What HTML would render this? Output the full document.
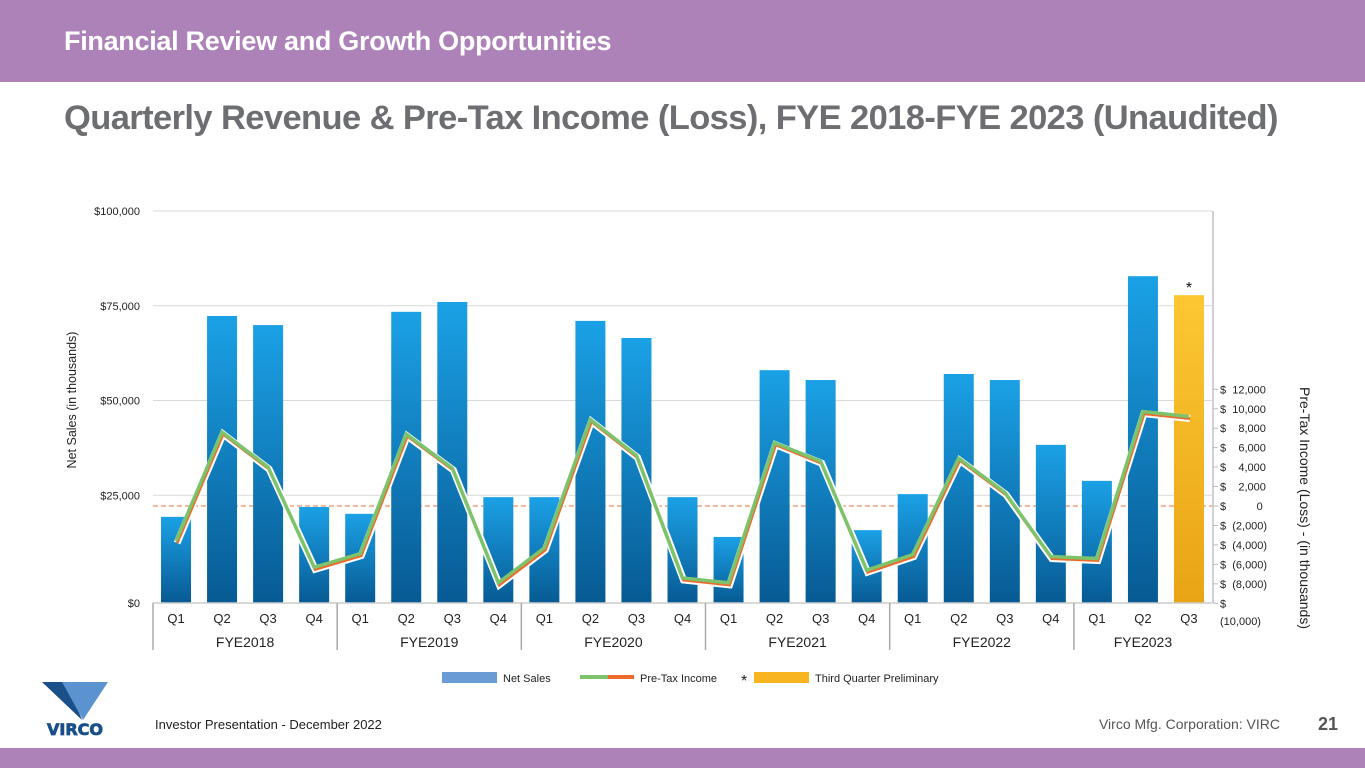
<!DOCTYPE html>
<html><head><meta charset="utf-8"><style>
body{margin:0;width:1365px;height:768px;overflow:hidden;background:#fff;font-family:"Liberation Sans",sans-serif;position:relative}
.hdr{position:absolute;left:0;top:0;width:1365px;height:82px;background:#ad82b9}
.hdr span{position:absolute;left:64px;top:26px;color:#fff;font-weight:bold;font-size:27px;letter-spacing:-0.3px}
.title{position:absolute;left:64px;top:99px;color:#6d6e71;font-weight:bold;font-size:34.5px;letter-spacing:-0.6px}
.foot{position:absolute;left:0;top:748px;width:1365px;height:20px;background:#ad82b9}
</style></head><body>
<div class="hdr"><span>Financial Review and Growth Opportunities</span></div>
<div class="title">Quarterly Revenue &amp; Pre-Tax Income (Loss), FYE 2018-FYE 2023 (Unaudited)</div>
<svg id="chart" width="1365" height="768" style="position:absolute;left:0;top:0" font-family="Liberation Sans, sans-serif">
<defs>
<linearGradient id="gb" x1="0" y1="0" x2="0" y2="1"><stop offset="0" stop-color="#1ba1e6"/><stop offset="1" stop-color="#075a93"/></linearGradient>
<linearGradient id="go" x1="0" y1="0" x2="0" y2="1"><stop offset="0" stop-color="#fcc733"/><stop offset="1" stop-color="#e9a415"/></linearGradient>
</defs>
<g id="grid"></g><g id="bars"></g><g id="lines"></g><g id="axes"></g>
<text x="0" y="0" transform="translate(76,400) rotate(-90)" text-anchor="middle" font-size="12.5" fill="#222">Net Sales (in thousands)</text>
<text x="0" y="0" transform="translate(1300,508) rotate(90)" text-anchor="middle" font-size="14" fill="#222">Pre-Tax Income (Loss) - (in thousands)</text>
<g font-size="11" fill="#222">
<rect x="442" y="672" width="55" height="11" fill="#6b9bd4"/>
<text x="503" y="682">Net Sales</text>
<line x1="580" y1="677" x2="608" y2="677" stroke="#7cc36b" stroke-width="4"/><line x1="608" y1="677" x2="634" y2="677" stroke="#ee6a2b" stroke-width="4"/>
<text x="640" y="682">Pre-Tax Income</text>
<text x="741" y="686" font-size="16">*</text>
<rect x="754" y="672" width="55" height="11" fill="#f9b51f"/>
<text x="815" y="682">Third Quarter Preliminary</text>
</g>
<g>
<polygon points="42,682 67,682 82,720" fill="#1a4f8a"/><polygon points="62,682 108,682 83,720" fill="#5b93d1"/>
<text x="75" y="735" text-anchor="middle" font-size="16" font-weight="bold" fill="#1a4f8a" font-family="DejaVu Sans, sans-serif" stroke="#1a4f8a" stroke-width="0.8">VIRCO</text>
</g>
<text x="155" y="729" font-size="13" fill="#222">Investor Presentation - December 2022</text>
<text x="1280" y="729" text-anchor="end" font-size="14" fill="#555">Virco Mfg. Corporation: VIRC</text>
<text x="1338" y="730" text-anchor="end" font-size="18" font-weight="bold" fill="#555">21</text>
</svg>
<div class="foot"></div>
<script>
const quarters=["Q1","Q2","Q3","Q4","Q1","Q2","Q3","Q4","Q1","Q2","Q3","Q4","Q1","Q2","Q3","Q4","Q1","Q2","Q3","Q4","Q1","Q2","Q3"];
const years=["FYE2018","FYE2019","FYE2020","FYE2021","FYE2022","FYE2023"];
const netSales=[19300,72300,69900,21900,20100,73400,76000,24500,24500,71000,66500,24500,14000,58000,55400,15800,25300,57000,55400,38300,28800,82800,77800];
const preTax=[-3600,7600,4000,-6300,-4900,7400,3900,-7900,-4300,8900,5200,-7400,-7900,6500,4600,-6600,-5000,4900,1400,-5200,-5400,9700,9200];
const leftTicks=[0,25000,50000,75000,100000];
const leftLabels=["$0","$25,000","$50,000","$75,000","$100,000"];
const rightTicks=[12000,10000,8000,6000,4000,2000,0,-2000,-4000,-6000,-8000,-10000];
const rightLabels=["$  12,000","$  10,000","$    8,000","$    6,000","$    4,000","$    2,000","$          0","$  (2,000)","$  (4,000)","$  (6,000)","$  (8,000)","$"];
const NS="http://www.w3.org/2000/svg";
const X0=153,X1=1212,YB=603,YT=211,Y0=590;
const step=(X1-X0)/quarters.length;
const xc=i=>X0+step*(i+0.5);
const yL=v=>Y0-(v/100000)*(Y0-YT);
const yR=v=>506-(v/2000)*19.45;
function mk(t,a,p){const e=document.createElementNS(NS,t);for(const k in a)e.setAttribute(k,a[k]);p.appendChild(e);return e;}
const grid=document.getElementById('grid'),bars=document.getElementById('bars'),lines=document.getElementById('lines'),axes=document.getElementById('axes');
leftTicks.forEach((v,i)=>{
 const y=v===0?YB:yL(v);
 if(v!==0){
 const g=mk('line',{x1:X0,x2:X1,y1:y,y2:y,stroke:"#d9d9d9","stroke-width":1},grid);
 
 
 }
 const t=mk('text',{x:140,y:y+4,"text-anchor":"end","font-size":11,fill:"#222"},axes);t.textContent=leftLabels[i];
 
 
});
mk('line',{x1:X0,x2:X1,y1:506,y2:506,stroke:"#e8733a","stroke-width":1,"stroke-dasharray":"5,3"},grid);
mk('line',{x1:X1+1,x2:X1+1,y1:YT,y2:YB,stroke:"#d0d0d0","stroke-width":2},axes);
rightTicks.forEach((v,i)=>{
 mk('line',{x1:X1+1,x2:X1+6,y1:yR(v),y2:yR(v),stroke:"#bbb"},axes);
 const t=mk('text',{x:1220,y:yR(v)+4,"font-size":11,fill:"#222"},axes);t.textContent=rightLabels[i];
 t.style.whiteSpace="pre";
 
 
});
const t10=mk('text',{x:1220,y:625,"font-size":11,fill:"#222"},axes);t10.textContent="(10,000)";
netSales.forEach((v,i)=>{
 const last=i===netSales.length-1;
 const r=mk('rect',{x:xc(i)-15,y:yL(v),width:30,height:YB-yL(v),fill:last?"url(#go)":"url(#gb)"},bars);
 
 
 if(last){const s=mk('text',{x:xc(i),y:yL(v)-2,"text-anchor":"middle","font-size":16,fill:"#111"},bars);s.textContent="*";}
});
const pts=preTax.map((v,i)=>xc(i)+","+yR(v)).join(" ");
const pts2=preTax.map((v,i)=>(xc(i)+1)+","+(yR(v)+2)).join(" ");
mk('polyline',{points:pts2,fill:"none",stroke:"#fff","stroke-width":7},lines);
mk('polyline',{points:pts2,fill:"none",stroke:"#ee6a2b","stroke-width":3},lines);
const gl=mk('polyline',{points:pts,fill:"none",stroke:"#7cc36b","stroke-width":3.5},lines);


mk('line',{x1:X0,x2:X1,y1:YB,y2:YB,stroke:"#ccc","stroke-width":1.5},axes);
quarters.forEach((q,i)=>{
 const t=mk('text',{x:xc(i),y:623,"text-anchor":"middle","font-size":13,fill:"#222"},axes);t.textContent=q;
 
 
});
years.forEach((y,k)=>{
 const s=k*4,e=Math.min(s+4,quarters.length);
 const xs=X0+step*s;
 mk('line',{x1:xs,x2:xs,y1:YB,y2:650,stroke:"#aaa","stroke-width":1.5},axes);
 const t=mk('text',{x:(xs+X0+step*e)/2,y:647,"text-anchor":"middle","font-size":14,fill:"#222"},axes);t.textContent=y;
 
 
});
</script>
</body></html>
